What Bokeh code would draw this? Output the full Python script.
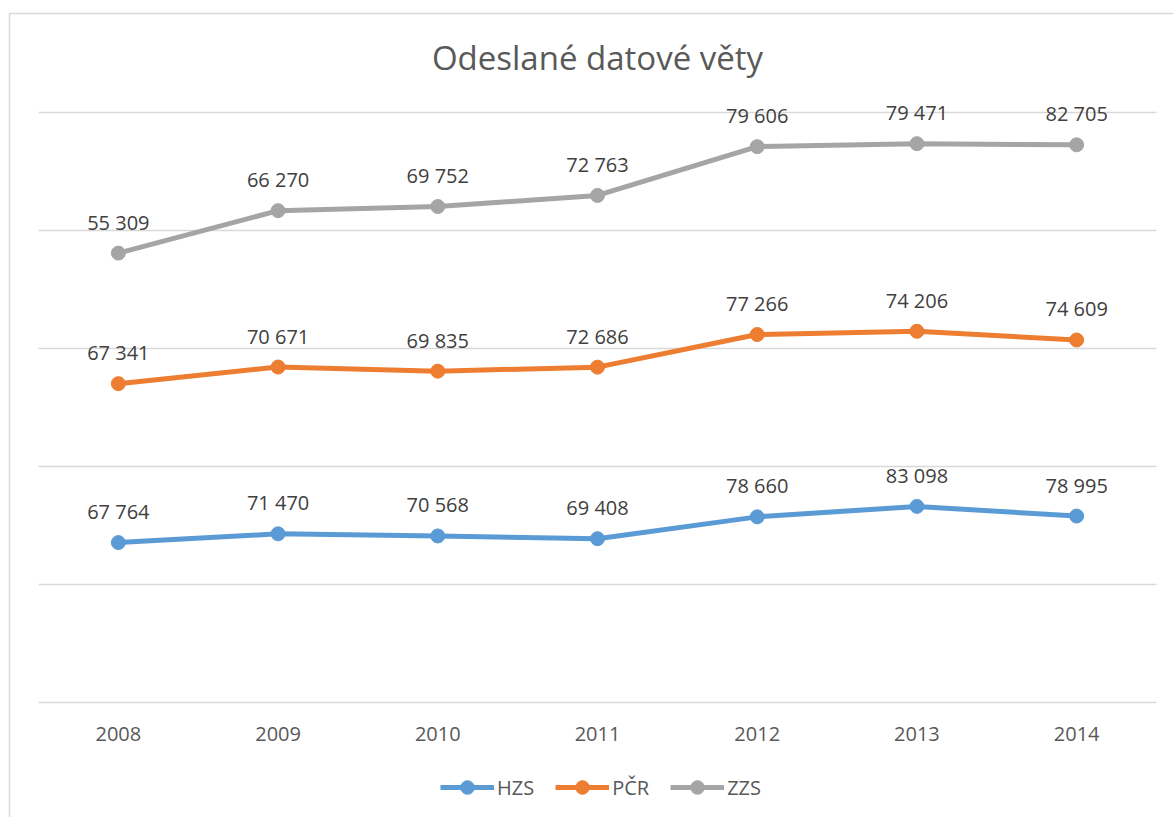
import numpy as np
from bokeh.plotting import figure
from bokeh.models import Range1d, Legend, LegendItem, ColumnDataSource
from bokeh.core.properties import value
from bokeh.embed import file_html
from bokeh.resources import INLINE

# ---- data ----
years = ["2008", "2009", "2010", "2011", "2012", "2013", "2014"]
hzs = [67764, 71470, 70568, 69408, 78660, 83098, 78995]
pcr = [67341, 70671, 69835, 72686, 77266, 74206, 74609]
zzs = [55309, 66270, 69752, 72763, 79606, 79471, 82705]
series_names = ["HZS", "PČR", "ZZS"]
series_values = [hzs, pcr, zzs]
colors = ["#5B9BD5", "#ED7D31", "#A5A5A5"]
y_ticks = [0, 50000, 100000, 150000, 200000, 250000]
title_text = "Odeslané datové věty"

FONT = "Open Sans"
W, H = 1173, 817

# plot-area geometry in canvas pixels
PL, PR, PT, PB = 38, 1156, 112, 702
n = len(years)
xppu = (PR - PL) / n                      # pixels per category
yppu = (PB - PT) / (y_ticks[-1] - y_ticks[0])
x0 = -0.5 - PL / xppu
x1 = n - 0.5 + (W - PR) / xppu
y0 = y_ticks[0] - (H - PB) / yppu
y1 = y_ticks[-1] + PT / yppu


def px_x(px):
    return x0 + px / xppu


def px_y(py):
    return y1 - py / yppu


p = figure(width=W, height=H, output_backend="svg", toolbar_location=None,
           x_range=Range1d(x0, x1), y_range=Range1d(y0, y1),
           min_border=0)
p.outline_line_color = None
p.axis.visible = False
p.grid.visible = False
p.background_fill_color = "white"
p.border_fill_color = "white"

# chart-area border (top and left visible)
p.line([px_x(W + 20), px_x(9), px_x(9)], [px_y(13), px_y(13), px_y(H + 20)],
       line_color="#D9D9D9", line_width=1.5)

# horizontal gridlines
p.segment(x0=[-0.5] * len(y_ticks), x1=[n - 0.5] * len(y_ticks),
          y0=y_ticks, y1=y_ticks, line_color="#D9D9D9", line_width=1.3)

xs = list(range(n))

# category labels
p.text(xs, [y_ticks[0]] * n, text=years, y_offset=31,
       text_align="center", text_baseline="middle",
       text_font=value(FONT), text_font_size="20px", text_color="#595959")

# stacked lines
cum = np.zeros(n)
items = []
for name, vals, col in zip(series_names, series_values, colors):
    cum = cum + np.array(vals, dtype=float)
    labels = [f"{v:,}".replace(",", " ") for v in vals]
    src = ColumnDataSource(dict(x=xs, y=list(cum), lab=labels))
    r1 = p.line("x", "y", source=src, line_color=col, line_width=5)
    r2 = p.scatter("x", "y", source=src, size=14, fill_color=col,
                   line_color=col)
    p.text("x", "y", text="lab", source=src, y_offset=-31,
           text_align="center", text_baseline="middle",
           text_font=value(FONT), text_font_size="20px",
           text_color="#404040")
    items.append(LegendItem(label=name, renderers=[r1, r2]))

legend = Legend(items=items, orientation="horizontal",
                location=(440, 13), glyph_width=54, glyph_height=34,
                label_text_font=FONT, label_text_font_size="20px",
                label_text_color="#595959", label_standoff=3,
                label_height=20, spacing=21, padding=0, margin=0,
                border_line_color=None, background_fill_alpha=0)
p.add_layout(legend, "center")

# title
p.text([(n - 1) / 2], [px_y(57)], text=[title_text],
       text_align="center", text_baseline="middle",
       text_font=value(FONT), text_font_size="33px", text_color="#595959")

html = file_html(p, INLINE)
html = html.replace("<body>", "<body style=\"margin:0\">")
open("out.html", "w").write(html)
